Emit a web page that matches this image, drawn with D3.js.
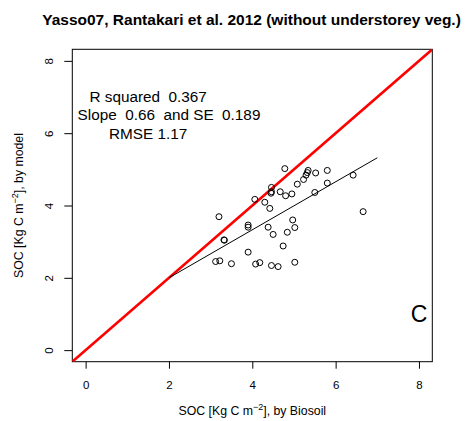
<!DOCTYPE html>
<html><head><meta charset="utf-8">
<script src="https://cdn.jsdelivr.net/npm/d3@7"></script>
<style>body{margin:0;background:#fff;} svg{display:block;} text{font-family:"Liberation Sans",Arial,sans-serif;}</style>
</head><body>
<script>
// Data
const obsBiosoil = [4.78,5.34,5.32,5.29,5.23,5.08,5.52,5.80,5.80,5.50,4.95,4.80,4.67,4.46,4.46,4.45,4.06,4.30,4.42,6.42,6.66,3.20,4.97,3.90,3.90,4.38,5.02,4.50,4.84,3.32,3.33,4.74,3.90,3.12,3.22,3.50,4.08,4.18,4.46,4.62,5.02];
const simModel   = [5.02,4.97,4.91,4.84,4.72,4.59,4.90,4.97,4.62,4.36,4.32,4.27,4.38,4.50,4.38,4.34,4.17,4.09,3.92,4.84,3.83,3.69,3.60,3.46,3.40,3.40,3.39,3.20,3.26,3.05,3.04,2.88,2.71,2.45,2.47,2.39,2.38,2.42,2.34,2.31,2.43];
const xTicks = [0,2,4,6,8];
const yTicks = [0,2,4,6,8];
const fitRange = [2,7];
const fitCoef = {intercept:0.672, slope:0.664};
const statLines = ["R squared  0.367","Slope  0.66  and SE  0.189","RMSE 1.17"];
const statPos = [[1.5,7.0],[2.0,6.5],[1.5,6.0]];
const titleText = "Yasso07, Rantakari et al. 2012 (without understorey veg.)";
const panelLabel = "C";

const W=465,H=421;
const svg=d3.select("body").append("svg").attr("width",W).attr("height",H);
const L=72.3,R=432.3,T=49.3,B=361.7;
const x=d3.scaleLinear().domain([-0.32,8.32]).range([L,R]);
const y=d3.scaleLinear().domain([-0.32,8.32]).range([B,T]);

svg.append("defs").append("clipPath").attr("id","clip").append("rect")
  .attr("x",L).attr("y",T).attr("width",R-L).attr("height",B-T);

// title
svg.append("text").attr("x",251.5).attr("y",25).attr("text-anchor","middle")
  .attr("font-weight","bold").attr("font-size",15.5).text(titleText);

// axes
const xa=svg.append("g").attr("transform",`translate(0,${B})`)
  .call(d3.axisBottom(x).tickValues(xTicks).tickSize(7).tickPadding(12).tickFormat(d3.format("d")));
xa.select(".domain").remove();
xa.selectAll("text").attr("font-size",11.5).attr("fill","#000").attr("font-family","Liberation Sans, Arial, sans-serif");
xa.selectAll("line").attr("stroke","#000");

const ya=svg.append("g").attr("transform",`translate(${L},0)`)
  .call(d3.axisLeft(y).tickValues(yTicks).tickSize(8).tickFormat(d3.format("d")));
ya.select(".domain").remove();
ya.selectAll("line").attr("stroke","#000");
ya.selectAll("text").remove();
ya.selectAll(".tick").append("text").attr("transform","translate(-19,0) rotate(-90)")
  .attr("text-anchor","middle").attr("font-size",11.5).attr("fill","#000")
  .text(d=>d);

// box
svg.append("rect").attr("x",L).attr("y",T).attr("width",R-L).attr("height",B-T)
  .attr("fill","none").attr("stroke","#000").attr("stroke-width",1);

// 1:1 line
svg.append("line").attr("clip-path","url(#clip)")
  .attr("x1",x(-0.32)).attr("y1",y(-0.32)).attr("x2",x(8.32)).attr("y2",y(8.32))
  .attr("stroke","#ff0000").attr("stroke-width",2.6);

// fit line
svg.append("line")
  .attr("x1",x(fitRange[0])).attr("y1",y(fitCoef.intercept+fitCoef.slope*fitRange[0]))
  .attr("x2",x(fitRange[1])).attr("y2",y(fitCoef.intercept+fitCoef.slope*fitRange[1]))
  .attr("stroke","#000").attr("stroke-width",1);

// points
svg.append("g").selectAll("circle").data(obsBiosoil.map((v,i)=>[v,simModel[i]])).join("circle")
  .attr("cx",d=>x(d[0])).attr("cy",d=>y(d[1])).attr("r",3)
  .attr("fill","none").attr("stroke","#000").attr("stroke-width",1);

// stats text
statLines.forEach((s,i)=>{
  svg.append("text").attr("x",x(statPos[i][0])).attr("y",y(statPos[i][1])).attr("dy","0.35em")
   .attr("text-anchor","middle").attr("font-size",15.3).attr("xml:space","preserve").style("white-space","pre").text(s);
});
svg.append("text").attr("x",x(8)).attr("y",y(1.0)).attr("dy","0.36em").attr("text-anchor","middle")
  .attr("font-size",23).text(panelLabel);

// axis labels
const xl=svg.append("text").attr("x",(L+R)/2).attr("y",415).attr("text-anchor","middle").attr("font-size",12.3);
xl.append("tspan").text("SOC [Kg C m");
xl.append("tspan").attr("dy",-5).attr("font-size",9).text("\u22122");
xl.append("tspan").attr("dy",5).text("], by Biosoil");

const yl=svg.append("text").attr("transform",`translate(23,${(T+B)/2}) rotate(-90)`).attr("text-anchor","middle").attr("font-size",12.3);
yl.append("tspan").text("SOC [Kg C m");
yl.append("tspan").attr("dy",-5).attr("font-size",9).text("\u22122");
yl.append("tspan").attr("dy",5).text("], by model");
</script>
</body></html>
